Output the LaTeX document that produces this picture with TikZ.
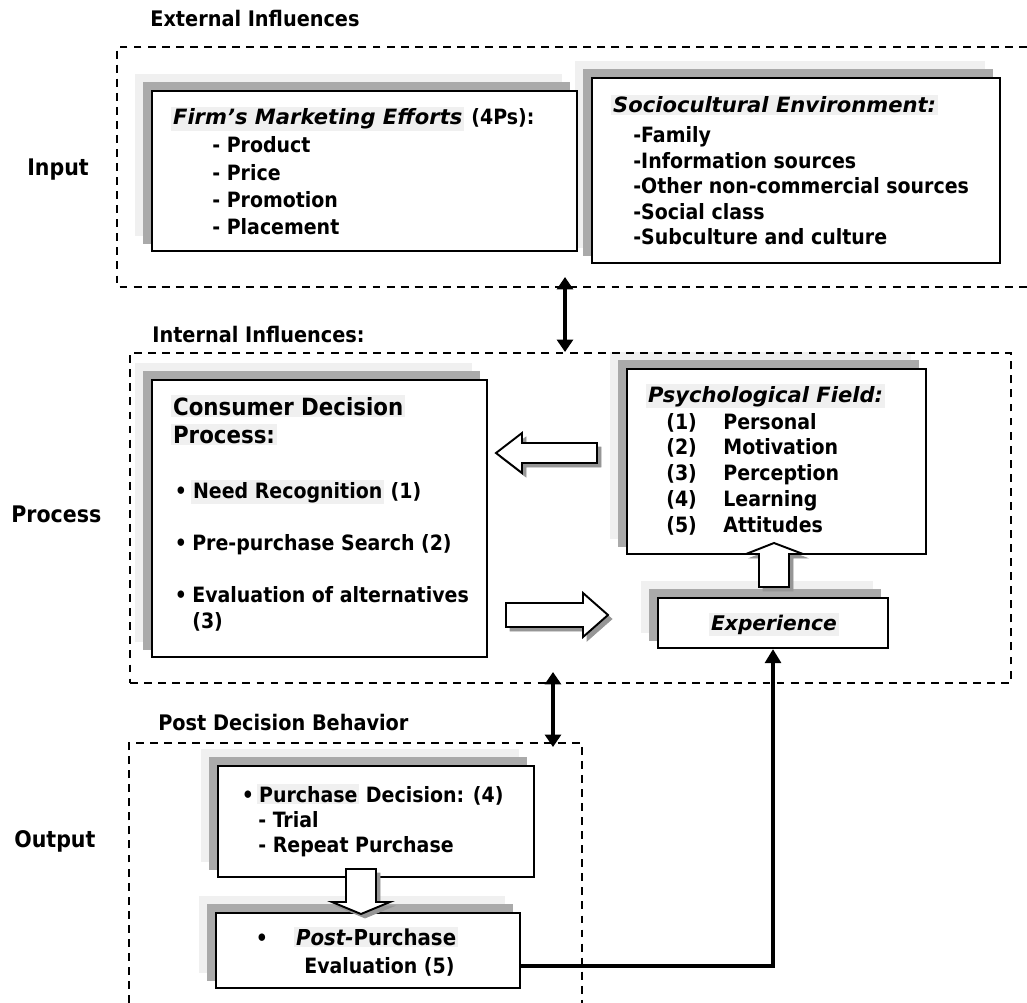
\documentclass[tikz,border=0pt]{standalone}
\usepackage{fontspec}
\setmainfont{DejaVu Sans Condensed}
\newfontfamily\titlefont{DejaVu Sans}
\usepackage{tikz}
\usetikzlibrary{arrows.meta,positioning,fit,calc,backgrounds}
\definecolor{shadeDark}  {RGB}{170,170,170}
\definecolor{shadeLight} {RGB}{240,240,240}
\definecolor{hlGray}     {RGB}{240,240,240}
\definecolor{arrowShadow}{RGB}{150,150,150}
\newcommand{\hl}[1]{{\setlength{\fboxsep}{1pt}\colorbox{hlGray}{#1}}}
% two shadow layers, up and left of a box
\newcommand{\boxshadow}[1]{%
  \fill[shadeLight] ([shift={(-16,-16)}]#1.south west) rectangle ([shift={(-16,-16)}]#1.north east);
  \fill[shadeDark]  ([shift={(-8,-8)}]#1.south west) rectangle ([shift={(-8,-8)}]#1.north east);
}
\tikzset{
  mainbox/.style={draw=black,line width=1.2pt,fill=white,inner sep=0pt},
  zone/.style={draw=black,line width=0.8pt,dash pattern=on 4.5pt off 3.5pt},
  txt/.style={inner sep=0pt,anchor=base west,font=\bfseries\fontsize{12}{14}\selectfont},
  titletxt/.style={txt,font=\titlefont\bfseries\itshape\fontsize{12}{14}\selectfont},
  bigtxt/.style={txt,font=\bfseries\fontsize{13.5}{16}\selectfont},
  sidelabel/.style={txt,font=\bfseries\fontsize{13}{15}\selectfont},
  zonelabel/.style={txt,font=\bfseries\fontsize{12.2}{14}\selectfont},
  blockarrow/.style={draw=black,line width=1.1pt,fill=white},
  blockshadow/.style={draw=arrowShadow,fill=arrowShadow},
  linkarrow/.style={line width=2.3pt,{Triangle[length=7pt,width=9pt]}-{Triangle[length=7pt,width=9pt]}},
  feedback/.style={line width=2.6pt,-{Triangle[length=8pt,width=9pt]}}
}

\begin{document}
\begin{tikzpicture}[x=0.02cm,y=-0.02cm]
  \useasboundingbox (0,0) rectangle (1027,1003);

  % zones
  \draw[zone] (1027,47) -- (117,47) -- (117,287) -- (1027,287);
  \node[zone,fit={(130,353) (1011,683)},inner sep=0pt] (proczone) {};
  \draw[zone] (129,1003) -- (129,743) -- (582,743) -- (582,1003);

  \node[zonelabel] (extlbl)  at (150,27)  {External Influences};
  \node[zonelabel] (intlbl)  at (152,342) {Internal Influences:};
  \node[zonelabel] (postlbl) at (158,730) {Post Decision Behavior};
  \node[sidelabel] (inlbl)   at (27,176)  {Input};
  \node[sidelabel] (proclbl) at (11,522)  {Process};
  \node[sidelabel] (outlbl)  at (14,847)  {Output};

  % boxes
  \node[mainbox,fit={(152,91) (577,251)}]  (firm)  {};
  \node[mainbox,fit={(592,78) (1000,263)}] (socio) {};
  \node[mainbox,fit={(152,380) (487,657)}] (cdp)   {};
  \node[mainbox,fit={(627,369) (926,554)}] (psych) {};
  \node[mainbox,fit={(658,598) (888,648)}] (exper) {};
  \node[mainbox,fit={(218,766) (534,877)}] (purch) {};
  \node[mainbox,fit={(216,913) (520,988)}] (post)  {};
  \begin{scope}[on background layer]
    \foreach \b in {firm,socio,cdp,psych,exper,purch,post}{\boxshadow{\b}}
  \end{scope}

  % block arrows, shadow first
  \foreach \s/\st in {4/blockshadow,0/blockarrow}{
    \draw[\st,shift={(\s,\s)}] (496,453) -- (522,433) -- (522,443) -- (597,443)
      -- (597,463) -- (522,463) -- (522,473) -- cycle;
    \draw[\st,shift={(\s,\s)}] (608,615) -- (583,593) -- (583,603) -- (506,603)
      -- (506,627) -- (583,627) -- (583,637) -- cycle;
    \draw[\st,shift={(\s,\s)}] (774,543) -- (803,554) -- (789,554) -- (789,587)
      -- (759,587) -- (759,554) -- (746,554) -- cycle;
    \draw[\st,shift={(\s,\s)}] (361,914) -- (390,902) -- (376,902) -- (376,869)
      -- (346,869) -- (346,902) -- (332,902) -- cycle;
  }

  % links between zones
  \coordinate (inlink)   at (565,277);
  \coordinate (proctop)  at (565,352);
  \coordinate (procbot)  at (553,672);
  \coordinate (outlink)  at (553,747);
  \draw[linkarrow] (inlink) -- (proctop);
  \draw[linkarrow] (procbot) -- (outlink);

  % feedback to experience
  \coordinate (fbrow) at (0,966);
  \draw[feedback] (post.east |- fbrow) -| (exper.south);

  % firm's marketing efforts
  \node[titletxt] (firmttl) at (171,125) {\hl{Firm’s Marketing Efforts}};
  \node[txt] (firm4p) at (firmttl.base east) {\ (4Ps):};
  \foreach \item [count=\i] in {Product,Price,Promotion,Placement}
    \node[txt] (firm\i) at (212,{153+27.3*(\i-1)}) {- \item};

  % sociocultural environment
  \node[titletxt] (sociottl) at (611,113) {\hl{Sociocultural Environment:}};
  \foreach \item [count=\i] in {Family,Information sources,Other non-commercial sources,Social class,Subculture and culture}
    \node[txt] (socio\i) at (633,{143+25.5*(\i-1)}) {-\item};

  % consumer decision process
  \node[bigtxt] (cdpttl)  at (171,415) {\hl{Consumer Decision}};
  \node[bigtxt] (cdpttl2) at (171,443) {\hl{Process:}};
  \foreach \y [count=\i] in {498,550,602}
    \node[txt,anchor=base] (cdpdot\i) at (181,\y) {•};
  \node[txt] (cdp1)  at (191,498) {\hl{Need Recognition} (1)};
  \node[txt] (cdp2)  at (192,550) {Pre-purchase Search (2)};
  \node[txt] (cdp3)  at (192,602) {Evaluation of alternatives};
  \node[txt] (cdp3b) at (192,628) {(3)};

  % psychological field
  \node[titletxt] (psychttl) at (646,402) {\hl{Psychological Field:}};
  \foreach \item [count=\i] in {Personal,Motivation,Perception,Learning,Attitudes}{
    \node[txt] (psychn\i) at (666,{429+25.8*(\i-1)}) {(\i)};
    \node[txt] (psych\i)  at (723,{429+25.8*(\i-1)}) {\item};
  }

  % experience
  \node[titletxt,anchor=base,font=\titlefont\bfseries\itshape\fontsize{11.5}{14}\selectfont]
    (expttl) at (774,630) {\hl{Experience}};

  % purchase decision
  \node[txt,anchor=base] (purchdot) at (248,802) {•};
  \node[txt] (purchttl) at (257,802) {\hl{Purchase} Decision: (4)};
  \node[txt] (purch1)   at (258,827) {- Trial};
  \node[txt] (purch2)   at (258,852) {- Repeat Purchase};

  % post-purchase evaluation
  \node[txt,anchor=base] (postdot) at (262,945) {•};
  \node[txt,font=\bfseries\fontsize{12.5}{14}\selectfont] (postttl) at (294,945) {\hl{\textit{Post-}Purchase}};
  \node[txt] (post1)   at (304,973) {Evaluation (5)};
\end{tikzpicture}
\end{document}
